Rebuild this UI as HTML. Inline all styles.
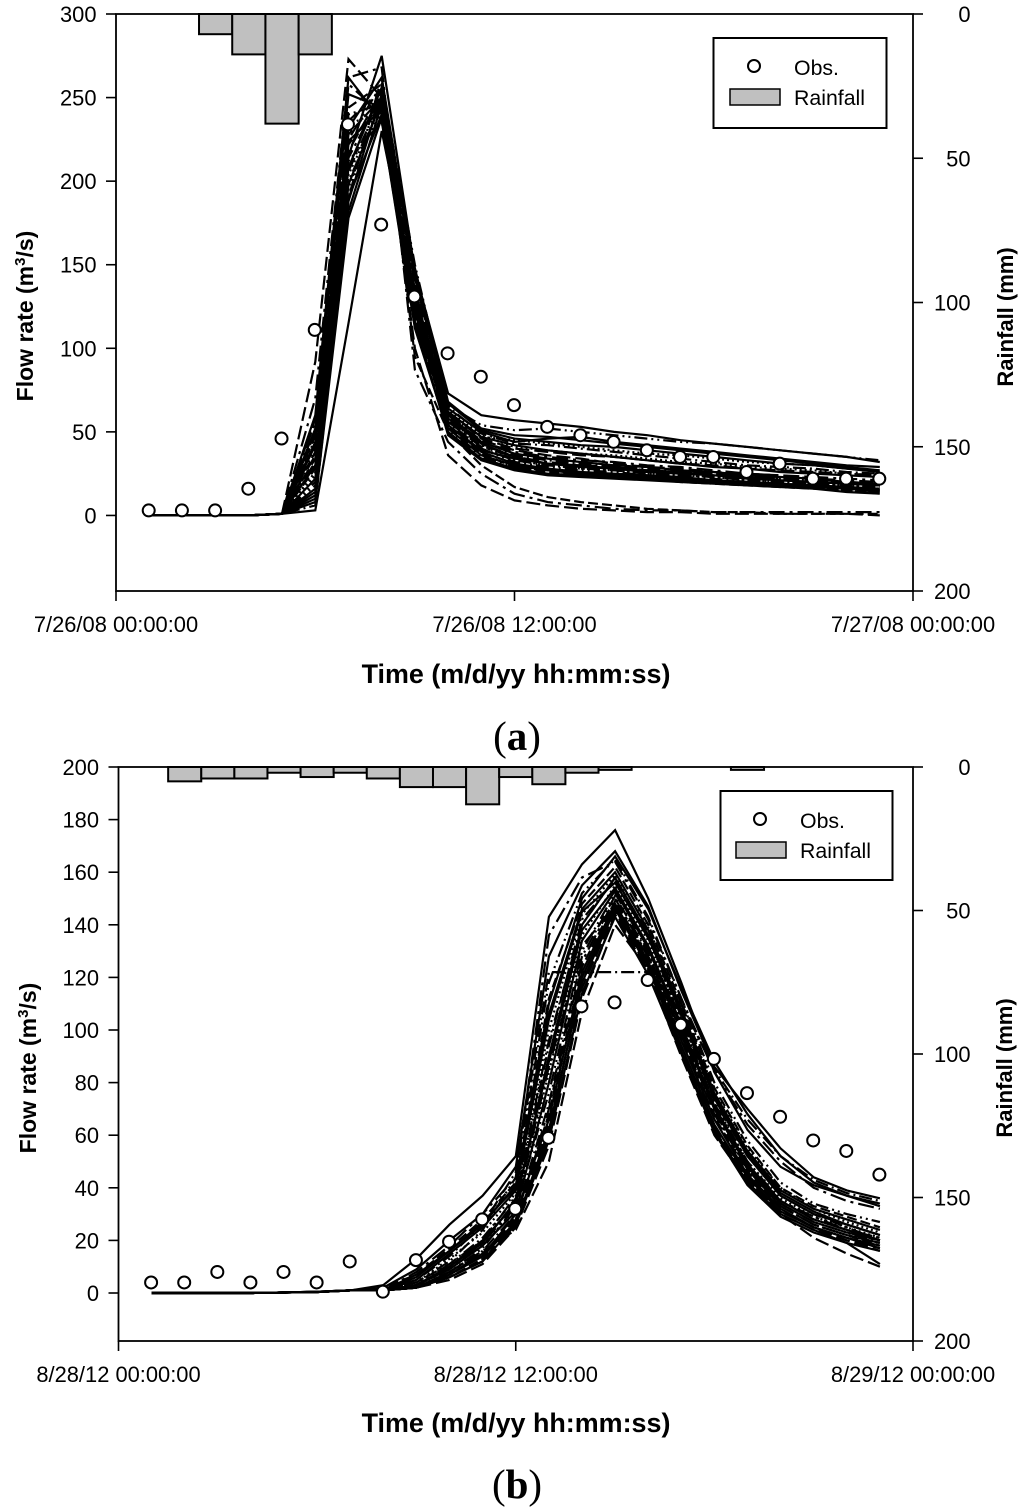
<!DOCTYPE html>
<html lang="en">
<head>
<meta charset="utf-8">
<title>Observed and simulated flow rate with rainfall</title>
<style>
html,body{margin:0;padding:0;background:#fff;}
svg{display:block;font-family:"Liberation Sans",sans-serif;}
.tick{font-size:21.9px;fill:#000;}
.legend-text{font-size:21.3px;fill:#000;}
.title{font-weight:bold;fill:#000;}
</style>
</head>
<body>
<svg id="chart" xmlns="http://www.w3.org/2000/svg" width="1024" height="1510" viewBox="0 0 1024 1510">
<rect x="0" y="0" width="1024" height="1510" fill="#fff"/>
<g id="panelA"></g>
<g id="panelB"></g>

<text class="title" font-size="26.9" x="516" y="683" text-anchor="middle">Time (m/d/yy hh:mm:ss)</text>
<text class="title" font-size="23" transform="translate(33 316) rotate(-90)" text-anchor="middle">Flow rate (m<tspan font-size="15" dy="-8">3</tspan><tspan dy="8">/s)</tspan></text>
<text class="title" font-size="22" transform="translate(1013 317) rotate(-90)" text-anchor="middle">Rainfall (mm)</text>
<text x="517" y="750" text-anchor="middle" font-size="41" style="font-family:'Liberation Serif',serif">(<tspan font-weight="bold">a</tspan>)</text>

<text class="title" font-size="26.9" x="516" y="1432" text-anchor="middle">Time (m/d/yy hh:mm:ss)</text>
<text class="title" font-size="23" transform="translate(36 1068) rotate(-90)" text-anchor="middle">Flow rate (m<tspan font-size="15" dy="-8">3</tspan><tspan dy="8">/s)</tspan></text>
<text class="title" font-size="22" transform="translate(1012 1068) rotate(-90)" text-anchor="middle">Rainfall (mm)</text>
<text x="517" y="1498" text-anchor="middle" font-size="41" style="font-family:'Liberation Serif',serif">(<tspan font-weight="bold">b</tspan>)</text>

<g>
  <rect x="713.5" y="38" width="173" height="90" fill="#fff" stroke="#000" stroke-width="2"/>
  <circle cx="754" cy="66" r="6" fill="#fff" stroke="#000" stroke-width="2"/>
  <text class="legend-text" x="794" y="75">Obs.</text>
  <rect x="730" y="89" width="50" height="16" fill="#c0c0c0" stroke="#000" stroke-width="1.5"/>
  <text class="legend-text" x="794" y="105">Rainfall</text>
</g>
<g>
  <rect x="720.5" y="791" width="172" height="89" fill="#fff" stroke="#000" stroke-width="2"/>
  <circle cx="760" cy="819" r="6" fill="#fff" stroke="#000" stroke-width="2"/>
  <text class="legend-text" x="800" y="828">Obs.</text>
  <rect x="736" y="842" width="50" height="16" fill="#c0c0c0" stroke="#000" stroke-width="1.5"/>
  <text class="legend-text" x="800" y="858">Rainfall</text>
</g>
</svg>

<script>
/* ---------- shared categories ---------- */
const hours = [1,2,3,4,5,6,7,8,9,10,11,12,13,14,15,16,17,18,19,20,21,22,23];
const timeTicksHours = [0,12,24];
const rainTicks = [0,50,100,150,200];
const dashStyles = ["", "14 5", "", "13 4 2 4", "13 4 2 4 2 4", "", "16 5 3 5", "", "10 4", "2 3"];

/* ---------- panel (a) values ---------- */
const timeLabelsA = ["7/26/08 00:00:00","7/26/08 12:00:00","7/27/08 00:00:00"];
const flowTicksA = [0,50,100,150,200,250,300];
const rainHoursA = [3,4,5,6];
const rainValuesA = [7,14,38,14];
const obsA = [3,3,3,16,46,111,234,174,131,97,83,66,53,48,44,39,35,35,26,31,22,22,22];
const simA = [
[0,0,0,0,1,3,115,230,133,62,47,42,39,37,35,33,31,29,28,26,25,24,23],
[0,0,0,0,1,92,273,250,100,36,18,9,6,4,3,2,2,1,1,1,1,1,0],
[0,0,0,0,1,30,215,275,146,73,60,57,55,53,50,48,45,43,41,39,37,35,32],
[0,0,0,0,1,6,190,262,118,56,40,33,30,28,27,25,24,23,21,20,19,18,17],
[0,0,0,0,1,40,225,258,150,66,54,51,52,50,48,46,44,43,41,39,37,35,33],
[0,0,0,0,1,14,188,252,122,52,36,30,27,25,24,23,22,21,20,18,17,16,15],
[0,0,0,0,1,70,262,268,87,44,25,13,8,6,4,3,3,2,2,2,2,2,2],
[0,0,0,0,1,44,232,262,142,64,50,44,46,47,44,42,40,38,36,34,32,30,29],
[0,0,0,0,1,58,244,258,95,50,30,17,11,8,6,4,3,2,2,1,1,1,1],
[0,0,0,0,1,26,196,250,130,60,47,45,43,41,39,37,36,34,32,31,30,28,27],
[0,0,0,0,1,10,182,246,124,54,38,31,28,26,25,24,23,21,20,19,18,17,16],
[0,0,0,0,1,48,236,255,138,62,46,40,38,36,35,33,31,30,28,27,26,25,24],
[0,0,0,0,1,22,208,256,147,68,52,48,47,45,43,41,39,37,35,33,31,29,27],
[0,0,0,0,1,36,222,248,127,57,42,36,33,31,29,28,26,25,23,22,21,20,19],
[0,0,0,0,1,18,200,244,120,55,40,32,29,27,26,24,23,22,20,19,18,17,15],
[0,0,0,0,1,52,252,244,116,48,33,27,24,23,22,21,20,19,18,17,16,14,13],
[0,0,0,0,1,32,214,252,135,61,44,38,35,33,32,30,29,27,25,24,23,22,21],
[0,0,0,0,1,12,190,240,129,58,43,35,31,29,28,26,25,24,22,21,20,19,18],
[0,0,0,0,1,38,228,250,123,53,37,29,26,24,23,22,21,20,19,18,17,15,14],
[0,0,0,0,1,24,204,246,144,63,48,41,39,37,36,34,32,31,29,28,27,25,24],
[0,0,0,0,1,60,262,236,112,50,34,28,25,24,23,22,21,20,19,18,17,16,15],
[0,0,0,0,1,34,218,254,132,59,45,39,36,34,31,29,28,26,25,24,22,21,20],
[0,0,0,0,1,8,178,238,126,54,39,34,31,30,28,27,26,24,23,21,20,19,18],
[0,0,0,0,1,50,240,246,140,65,49,43,42,40,38,36,34,32,30,29,28,26,25],
[0,0,0,0,1,20,206,250,119,51,35,29,27,25,24,23,22,20,19,18,17,16,14],
[0,0,0,0,1,42,224,243,130,60,44,37,34,32,30,29,27,26,24,23,22,20,19],
[0,0,0,0,1,56,258,240,124,56,41,35,32,30,29,27,26,25,23,22,21,19,18],
[0,0,0,0,1,16,198,248,148,67,51,46,44,42,41,39,37,35,33,31,30,28,26],
[0,0,0,0,1,28,212,236,114,49,34,28,25,24,23,22,20,19,18,17,16,15,13],
[0,0,0,0,1,46,234,242,127,58,42,33,30,28,27,25,24,23,21,20,19,18,16]
];

/* ---------- panel (b) values ---------- */
const timeLabelsB = ["8/28/12 00:00:00","8/28/12 12:00:00","8/29/12 00:00:00"];
const flowTicksB = [0,20,40,60,80,100,120,140,160,180,200];
const rainHoursB = [2,3,4,5,6,7,8,9,10,11,12,13,14,15,19];
const rainValuesB = [5,4,4,2,3.5,2,4,7,7,13,3.5,6,2,1,1];
const obsB = [4,4,8,4,8,4,12,0.5,12.5,19.5,28,32,59,109,110.5,119,102,89,76,67,58,54,45];
const simB = [
[0,0,0,0,0.2,0.5,1,3,13,26,37,52,143,163,176,150,118,84,62,48,41,37,34],
[0,0,0,0,0.2,0.4,1,1,2,8,16,24,50,107,140,123,100,62,43,30,21,15,10],
[0,0,0,0,0.2,0.5,1,2,9,20,30,48,128,155,168,147,115,86,70,55,44,39,36],
[0,0,0,0,0.2,0.4,1,1,5,14,26,46,122,122,122,122,110,85,66,52,43,38,35],
[0,0,0,0,0.2,0.4,1,1,4,12,24,44,118,152,165,143,112,80,58,42,34,30,27],
[0,0,0,0,0.2,0.4,1,1,3,10,20,34,90,140,158,136,106,74,52,37,30,26,22],
[0,0,0,0,0.2,0.4,1,1,2,8,15,28,70,126,150,128,98,68,47,33,26,22,19],
[0,0,0,0,0.2,0.4,1,1,2,6,12,26,62,118,146,124,92,62,42,30,24,19,11],
[0,0,0,0,0.2,0.5,1,2,7,17,28,42,112,148,162,140,110,78,56,40,33,29,25],
[0,0,0,0,0.2,0.4,1,1,3,9,18,32,84,136,155,134,104,72,50,36,29,25,21],
[0,0,0,0,0.2,0.4,1,1,2,7,14,30,66,122,148,126,96,66,45,32,25,21,18],
[0,0,0,0,0.2,0.4,1,1,2,5,11,25,56,112,144,122,90,60,42,30,24,20,16],
[0,0,0,0,0.2,0.5,1,1,6,16,27,40,106,146,160,138,108,76,54,39,32,28,24],
[0,0,0,0,0.2,0.4,1,1,4,11,21,36,94,142,157,137,105,73,52,37,30,25,20],
[0,0,0,0,0.2,0.4,1,1,3,8,17,33,76,130,152,130,100,70,49,34,27,23,19],
[0,0,0,0,0.2,0.4,1,1,2,7,14,27,60,120,147,125,94,64,44,31,25,21,17],
[0,0,0,0,0.2,0.5,1,1,8,18,30,44,136,158,164,142,112,84,64,50,40,35,32],
[0,0,0,0,0.2,0.4,1,1,3,10,19,35,88,138,154,132,102,71,49,35,28,24,20],
[0,0,0,0,0.2,0.4,1,1,2,6,13,29,68,124,149,127,97,67,46,33,26,22,18],
[0,0,0,0,0.2,0.4,1,1,4,13,23,38,100,144,159,139,109,77,55,40,32,27,23],
[0,0,0,0,0.2,0.4,1,1,3,9,18,31,80,134,153,131,101,70,48,34,27,23,20],
[0,0,0,0,0.2,0.4,1,1,2,6,12,28,64,116,145,123,93,63,43,31,25,20,17],
[0,0,0,0,0.2,0.4,1,1,5,15,25,39,104,145,156,135,107,75,53,38,31,26,22],
[0,0,0,0,0.2,0.4,1,1,2,8,16,30,72,128,151,129,99,69,47,33,26,22,19],
[0,0,0,0,0.2,0.4,1,1,3,11,20,37,96,140,158,136,103,72,50,35,28,24,21],
[0,0,0,0,0.2,0.4,1,1,2,7,15,26,58,114,143,121,91,61,41,29,23,19,16],
[0,0,0,0,0.2,0.4,1,1,3,9,19,33,86,132,147,128,100,70,48,35,29,24,20],
[0,0,0,0,0.2,0.5,1,1,7,16,26,41,110,150,166,146,116,88,68,52,42,37,33]
];

/* ---------- drawing ---------- */
const NS = "http://www.w3.org/2000/svg";
function make(parent, tag, attrs, text){
  const el = document.createElementNS(NS, tag);
  for (const k in attrs) el.setAttribute(k, attrs[k]);
  if (text !== undefined) el.textContent = text;
  parent.appendChild(el);
  return el;
}

function drawPanel(g, id, box, flowMin, flowMax, flowTicks, timeLabels, rainHours, rainValues, sim, obs){
  const xScale = h => box.left + (box.right - box.left) * h / 24;
  const yFlow = v => box.bottom - (box.bottom - box.top) * (v - flowMin) / (flowMax - flowMin);
  const yRain = v => box.top + (box.bottom - box.top) * v / 200;

  /* simulated runs */
  sim.forEach((run, i) => {
    const pts = run.map((v, k) => xScale(hours[k]).toFixed(1) + "," + yFlow(v).toFixed(1)).join(" ");
    const line = make(g, "polyline", {points: pts, fill: "none", stroke: "#000", "stroke-width": 2.2, "stroke-linejoin": "miter"});
    
    
    const dash = dashStyles[i % dashStyles.length];
    if (dash) line.setAttribute("stroke-dasharray", dash);
  });

  /* rainfall bars */
  rainHours.forEach((h, i) => {
    const y0 = yRain(0);
    const y1 = yRain(rainValues[i]);
    const bar = make(g, "rect", {x: xScale(h - 0.5), y: y0, width: xScale(h + 0.5) - xScale(h - 0.5), height: y1 - y0, fill: "#c0c0c0", stroke: "#000", "stroke-width": 2});
    
    
  });

  /* axes frame */
  const frame = make(g, "rect", {x: box.left, y: box.top, width: box.right - box.left, height: box.bottom - box.top, fill: "none", stroke: "#000", "stroke-width": 1.8});
  
  

  /* left ticks */
  flowTicks.forEach(v => {
    const y = yFlow(v);
    const t = make(g, "line", {x1: box.left - 10, x2: box.left, y1: y, y2: y, stroke: "#000", "stroke-width": 1.6});
    
    
    const l = make(g, "text", {class: "tick", x: box.left - 19.5, y: y + 8, "text-anchor": "end"}, String(v));
    
    
  });

  /* right ticks */
  rainTicks.forEach(v => {
    const y = yRain(v);
    const t = make(g, "line", {x1: box.right, x2: box.right + 10, y1: y, y2: y, stroke: "#000", "stroke-width": 1.6});
    
    
    const l = make(g, "text", {class: "tick", x: box.right + 57.5, y: y + 8, "text-anchor": "end"}, String(v));
    
    
  });

  /* bottom ticks */
  timeTicksHours.forEach((h, i) => {
    const x = xScale(h);
    const t = make(g, "line", {x1: x, x2: x, y1: box.bottom, y2: box.bottom + 10, stroke: "#000", "stroke-width": 1.6});
    
    
    const l = make(g, "text", {class: "tick", x: x, y: box.bottom + 41, "text-anchor": "middle"}, timeLabels[i]);
    
    
  });

  /* observed points */
  obs.forEach((v, k) => {
    const c = make(g, "circle", {cx: xScale(hours[k]) - 0.5, cy: yFlow(v), r: 6, fill: "#fff", stroke: "#000", "stroke-width": 2});
    
    
  });
}

drawPanel(document.getElementById("panelA"), "a", {left:116, right:913, top:14, bottom:591}, -45.2, 300, flowTicksA, timeLabelsA, rainHoursA, rainValuesA, simA, obsA);
drawPanel(document.getElementById("panelB"), "b", {left:118.5, right:913, top:767, bottom:1341}, -18.25, 200, flowTicksB, timeLabelsB, rainHoursB, rainValuesB, simB, obsB);
</script>
</body>
</html>
